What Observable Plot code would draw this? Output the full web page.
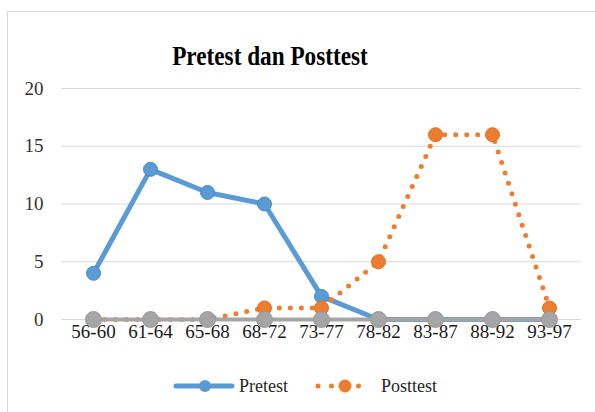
<!DOCTYPE html>
<html>
<head>
<meta charset="utf-8">
<script src="https://cdn.jsdelivr.net/npm/d3@7"></script>
<script src="https://cdn.jsdelivr.net/npm/@observablehq/plot@0.6"></script>
<style>
  html, body { margin: 0; padding: 0; background: #fff; overflow: hidden; }
  #wrap { position: relative; width: 595px; height: 412px; overflow: hidden; font-family: "Liberation Serif", "Times New Roman", serif; }
  #frame { position: absolute; left: 7px; top: 11px; width: 620px; height: 440px; border: 1.5px solid #d9d9d9; box-sizing: border-box; }
  #title { position: absolute; left: 0; top: 43px; width: 540px; text-align: center; font-size: 27px; line-height: 27px; font-weight: bold; color: #000; transform: scaleX(0.86); transform-origin: 270px 0; }
  #chart { position: absolute; left: 0; top: 0; }
  #legend { position: absolute; left: 0; top: 370px; width: 595px; height: 32px; }
</style>
</head>
<body>
<div id="wrap">
  <div id="frame"></div>
  <div id="chart"></div>
  <div id="title">Pretest dan Posttest</div>
  <div id="legend"></div>
</div>
<script>
const categories = ["56-60","61-64","65-68","68-72","73-77","78-82","83-87","88-92","93-97"];
const pretest  = [4, 13, 11, 10, 2, 0, 0, 0, 0];
const posttest = [0, 0, 0, 1, 1, 5, 16, 16, 1];
const series3  = [0, 0, 0, 0, 0, 0, 0, 0, 0];
const yTicks = [0, 5, 10, 15, 20];

const rows = (vals) => categories.map((c, i) => ({cat: c, v: vals[i]}));
const pre = rows(pretest), post = rows(posttest), s3 = rows(series3);

const blue = "#5b9bd5", orange = "#ed7d31", grey = "#a5a5a5";

const plot = Plot.plot({
  width: 595,
  height: 360,
  marginTop: 88,
  marginBottom: 41,
  marginLeft: 61,
  marginRight: 14,
  style: {fontFamily: "'Liberation Serif', 'Times New Roman', serif", fontSize: "19px", color: "#404040", background: "transparent"},
  x: {type: "point", domain: categories, padding: 0.5, label: null},
  y: {domain: [0, 20], ticks: yTicks, label: null},
  marks: [
    Plot.gridY(yTicks, {stroke: "#d9d9d9", strokeOpacity: 1, strokeWidth: 1.2}),
    Plot.axisY(yTicks, {tickSize: 0, tickPadding: 18, label: null, fontSize: 19, fill: "#333"}),
    Plot.axisX({tickSize: 0, tickPadding: 5, label: null, fontSize: 19, fill: "#1a1a1a"}),
    Plot.line(pre, {x: "cat", y: "v", stroke: blue, strokeWidth: 5, strokeLinejoin: "round", strokeLinecap: "round"}),
    Plot.dot(pre, {x: "cat", y: "v", r: 7, fill: blue, stroke: "#4a8ac4", strokeWidth: 1}),
    Plot.line(post, {x: "cat", y: "v", stroke: orange, strokeWidth: 5, strokeDasharray: "0 11", strokeLinecap: "round"}),
    Plot.dot(post, {x: "cat", y: "v", r: 7, fill: orange, stroke: "#e0701f", strokeWidth: 1}),
    Plot.line(s3, {x: "cat", y: "v", stroke: grey, strokeWidth: 4}),
    Plot.dot(s3, {x: "cat", y: "v", r: 8, fill: grey, stroke: "#999", strokeWidth: 1})
  ]
});
document.getElementById("chart").appendChild(plot);

// Legend
const lg = d3.select("#legend").append("svg").attr("width", 595).attr("height", 32);
lg.append("line").attr("x1", 176).attr("x2", 232).attr("y1", 16).attr("y2", 16)
  .attr("stroke", blue).attr("stroke-width", 5).attr("stroke-linecap", "round");
lg.append("circle").attr("cx", 205).attr("cy", 16).attr("r", 6).attr("fill", blue);
lg.append("text").attr("x", 239).attr("y", 22).attr("font-size", 18)
  .attr("font-family", "'Liberation Serif', 'Times New Roman', serif").attr("fill", "#262626").text("Pretest");
lg.append("line").attr("x1", 318).attr("x2", 372).attr("y1", 16).attr("y2", 16)
  .attr("stroke", orange).attr("stroke-width", 5).attr("stroke-linecap", "round").attr("stroke-dasharray", "0 13.5");
lg.append("circle").attr("cx", 345).attr("cy", 16).attr("r", 6.5).attr("fill", orange);
lg.append("text").attr("x", 381).attr("y", 22).attr("font-size", 18)
  .attr("font-family", "'Liberation Serif', 'Times New Roman', serif").attr("fill", "#262626").text("Posttest");
</script>
</body>
</html>
